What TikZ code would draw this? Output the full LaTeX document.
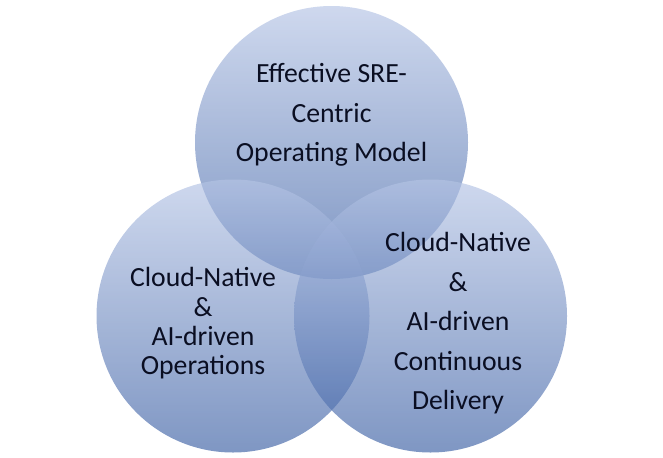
\documentclass[tikz,border=0pt]{standalone}
\usepackage{fontspec}
\setmainfont{Carlito}
\usepackage{tikz}
\usetikzlibrary{positioning}
\definecolor{vennTop}{RGB}{181,196,229}
\definecolor{vennBot}{RGB}{60,96,164}
\definecolor{vennText}{RGB}{10,14,34}
\begin{document}
\begin{tikzpicture}[x=0.75pt, y=-0.75pt,
    venn/.style={circle, minimum size=204.75pt, inner sep=0pt,
        top color=vennTop, bottom color=vennBot, fill opacity=0.66, draw=none},
    label/.style={align=center, text=vennText, inner sep=0pt,
        font=\fontsize{20.8}{29.6}\selectfont}]

\useasboundingbox (0,0) rectangle (663,457);

% Cercles

\node[venn] (sre) at (331.5,142.5) {};

\node[venn] (ops) at (233,316) {};

\node[venn] (cd) at (430.5,316) {};

% Textos

\node[label] (sretext) at ([shift={(0,-27.5)}]sre.center)
  {Effective SRE-\\Centric\\Operating Model};

\node[label, font=\fontsize{20.8}{22}\selectfont] (opstext) at ([shift={(-30,7.5)}]ops.center)
  {Cloud-Native\\\&\\AI-driven\\Operations};

\node[label] (cdtext) at ([shift={(27.5,7.5)}]cd.center)
  {Cloud-Native\\\&\\AI-driven\\Continuous\\Delivery};

\end{tikzpicture}
\end{document}
